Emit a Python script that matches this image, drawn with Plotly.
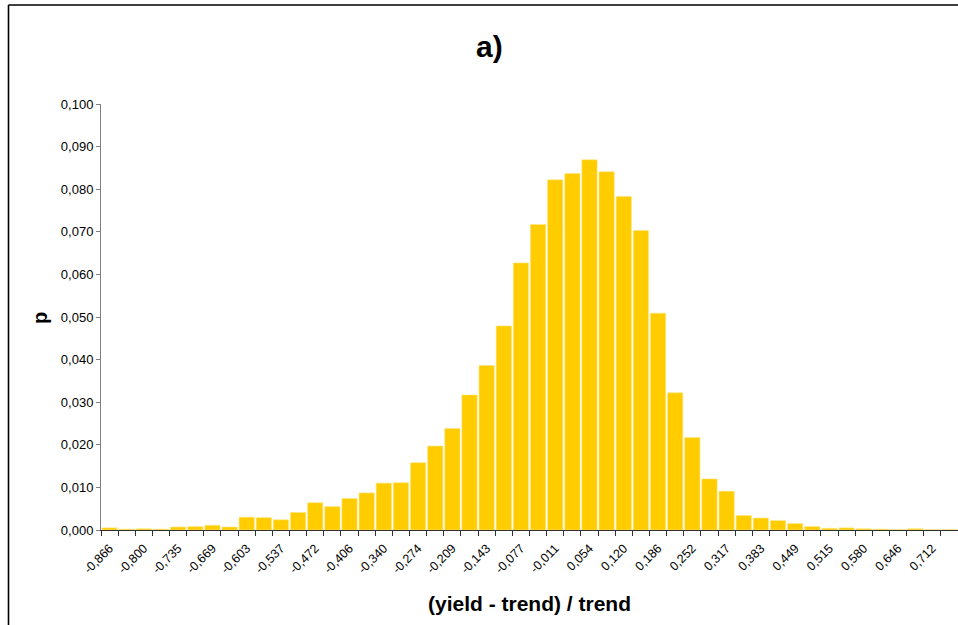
import plotly.graph_objects as go

# Relative deviation of yield from trend, 50 equal-width classes
tick_labels = [
    "-0,866", "-0,800", "-0,735", "-0,669", "-0,603", "-0,537", "-0,472",
    "-0,406", "-0,340", "-0,274", "-0,209", "-0,143", "-0,077", "-0,011",
    "0,054", "0,120", "0,186", "0,252", "0,317", "0,383", "0,449",
    "0,515", "0,580", "0,646", "0,712",
]

# Relative frequency p of each class
p_values = [
    0.0005, 0.0002, 0.0003, 0.0002, 0.0007, 0.0008, 0.0011, 0.0007,
    0.0030, 0.0029, 0.0024, 0.0041, 0.0064, 0.0055, 0.0074, 0.0087,
    0.0110, 0.0111, 0.0158, 0.0197, 0.0238, 0.0317, 0.0386, 0.0479,
    0.0627, 0.0717, 0.0822, 0.0837, 0.0869, 0.0841, 0.0783, 0.0703,
    0.0509, 0.0322, 0.0217, 0.0120, 0.0091, 0.0034, 0.0028, 0.0022,
    0.0015, 0.0008, 0.0004, 0.0005, 0.0003, 0.0002, 0.0001, 0.0003,
    0.0001, 0.0001,
]

y_ticks = [i / 100 for i in range(11)]

n = len(p_values)
idx = list(range(n))
FONT = "Liberation Sans, Arial, sans-serif"

fig = go.Figure()
fig.add_trace(go.Bar(
    x=idx, y=p_values,
    marker=dict(color="#FFCC00", line=dict(color="#FFE680", width=0.6)),
    hoverinfo="skip", showlegend=False,
))
# carrier for the tick marks drawn at class boundaries
fig.add_trace(go.Scatter(x=[], y=[], xaxis="x2", showlegend=False))

fig.update_layout(
    width=958, height=625,
    margin=dict(l=101, r=0, t=104, b=95),
    paper_bgcolor="white", plot_bgcolor="white",
    bargap=0.11,
    font=dict(family=FONT, color="#000000"),
    xaxis=dict(
        range=[-0.5, n - 0.5],
        tickvals=idx[::2], ticktext=tick_labels,
        tickangle=-45, ticks="", tickfont=dict(size=12.5),
        ticklabelstandoff=5,
        showgrid=False, zeroline=False,
        showline=True, linecolor="#303030", linewidth=1.2,
    ),
    xaxis2=dict(
        overlaying="x", range=[-0.5, n - 0.5],
        tickvals=[i - 0.5 for i in range(n + 1)],
        showticklabels=False, ticks="outside", ticklen=5,
        tickcolor="#303030", tickwidth=1,
        showgrid=False, zeroline=False, showline=False,
    ),
    yaxis=dict(
        range=[0, 0.1], tickvals=y_ticks,
        ticktext=[f"{v:.3f}".replace(".", ",") for v in y_ticks],
        ticks="outside", ticklen=4, tickcolor="#808080",
        tickfont=dict(size=13),
        showgrid=False, zeroline=False,
        showline=True, linecolor="#808080", linewidth=1,
    ),
    annotations=[
        dict(text="<b>a)</b>", xref="paper", yref="paper",
             x=(489 - 101) / 857, y=(530 - 47) / 426,
             xanchor="center", yanchor="middle", showarrow=False,
             font=dict(size=30)),
        dict(text="<b>p</b>", xref="paper", yref="paper",
             x=(40 - 101) / 857, y=(530 - 318) / 426, textangle=-90,
             xanchor="center", yanchor="middle", showarrow=False,
             font=dict(size=20)),
        dict(text="<b>(yield - trend) / trend</b>", xref="paper", yref="paper",
             x=0.5, y=(530 - 603) / 426,
             xanchor="center", yanchor="middle", showarrow=False,
             font=dict(size=21)),
    ],
    shapes=[
        dict(type="line", xref="paper", yref="paper",
             x0=(8.5 - 101) / 857, x1=(8.5 - 101) / 857,
             y0=-0.3, y1=(530 - 5) / 426,
             line=dict(color="black", width=1.6)),
        dict(type="line", xref="paper", yref="paper",
             x0=(8.5 - 101) / 857, x1=1.1,
             y0=(530 - 5) / 426, y1=(530 - 5) / 426,
             line=dict(color="black", width=1.6)),
    ],
)

fig.write_html("out.html")
